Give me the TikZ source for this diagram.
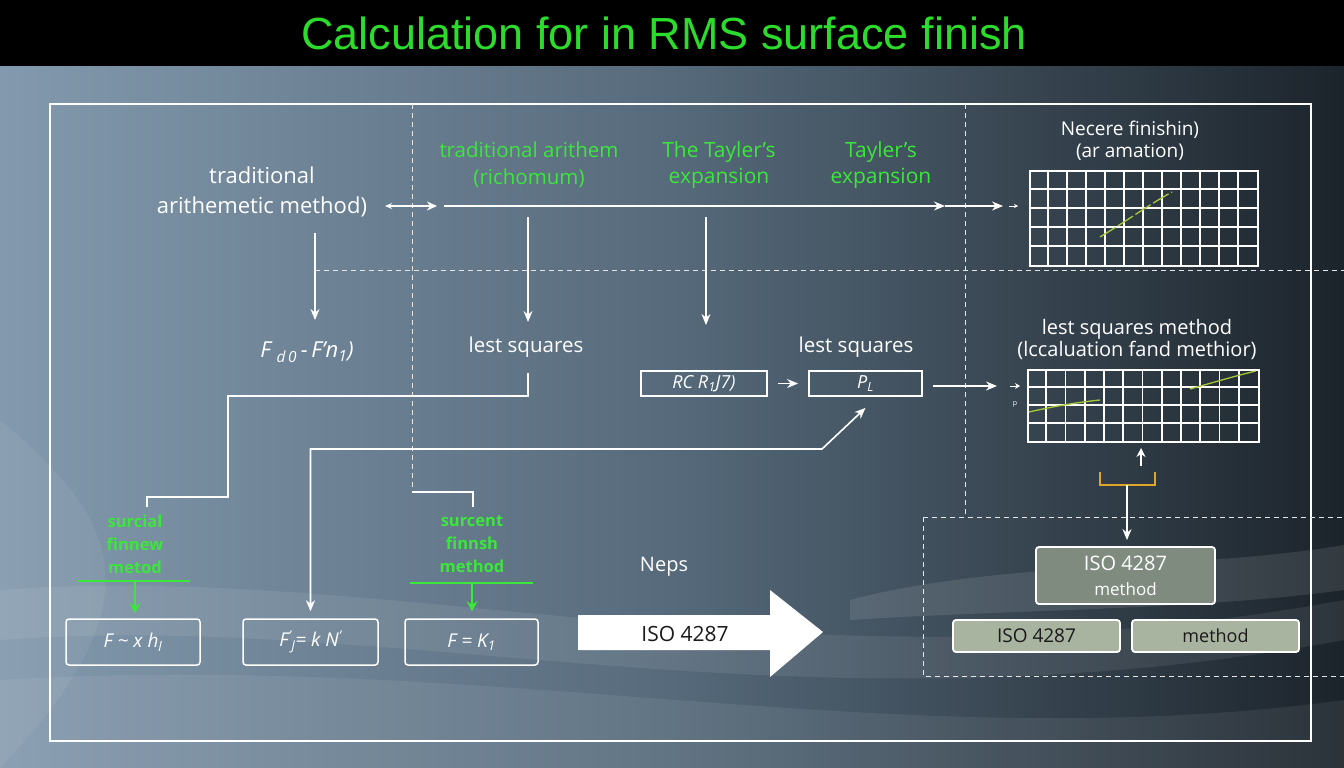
\documentclass[tikz,border=0pt]{standalone}
\usepackage{fontspec}
\setmainfont{Open Sans}
\newfontfamily\titlefont{Liberation Sans}
\usetikzlibrary{arrows.meta,calc}
\definecolor{tgreen}{HTML}{2BDC2B}
\definecolor{lgreen}{HTML}{3CE63C}
\definecolor{bgL}{HTML}{8399AD}
\definecolor{bgM}{HTML}{566A7B}
\definecolor{bgR}{HTML}{1C242B}
\definecolor{boxA}{HTML}{7F8B7F}
\definecolor{boxB}{HTML}{A8B4A0}
\definecolor{orng}{HTML}{E0A526}
\definecolor{lime}{HTML}{A8C83A}
\definecolor{darktxt}{HTML}{1A1A1A}
\begin{document}
\begin{tikzpicture}[x=1pt,y=-1pt,
  wtxt/.style={text=white, align=center, inner sep=0pt},
  gtxt/.style={text=lgreen, align=center, inner sep=0pt},
  conn/.style={white, line width=1.6pt},
  arr/.style={conn, -{Stealth[length=11pt,width=9pt]}},
  dsh/.style={white!80!gray, line width=1pt, dash pattern=on 5pt off 4pt},
  fbox/.style={draw=white, line width=1.5pt, rounded corners=3pt, inner sep=0pt, text=white, font=\itshape\fontsize{19}{22}\selectfont},
  sbox/.style={draw=white, line width=1.8pt, inner sep=0pt, text=white, font=\itshape\fontsize{18}{20}\selectfont},
  gridl/.style={white, line width=1.6pt},
  gline/.style={lgreen, line width=1.6pt},
  garr/.style={lgreen, line width=2.2pt, -{Stealth[length=10pt,width=11pt]}}
]
\useasboundingbox (0,0) rectangle (1344,768);
% background
\shade[left color=bgL, right color=bgR, middle color=bgM] (0,66) rectangle (1344,768);
\fill[white, opacity=0.06] (0,420) .. controls (120,520) and (160,600) .. (0,768) -- cycle;
\fill[white, opacity=0.08] (0,590) .. controls (400,560) and (800,700) .. (1344,600) -- (1344,640) .. controls (800,740) and (400,610) .. (0,640) -- cycle;
\fill[white, opacity=0.07] (0,680) .. controls (500,650) and (900,760) .. (1344,700) -- (1344,768) -- (0,768) -- cycle;
\fill[white, opacity=0.10] (850,600) .. controls (1000,560) and (1200,570) .. (1344,545) -- (1344,590) .. controls (1200,610) and (1000,610) .. (850,620) -- cycle;
\fill[black] (0,0) rectangle (1344,66);
\node[text=tgreen, font=\titlefont\fontsize{45}{50}\selectfont] (title) at (664,33) {Calculation for in RMS surface finish};
% frame
\draw[white, line width=2pt] (50,104) rectangle (1311,741);
% dashed guides
\draw[dsh] (412,104) -- (412,492);
\draw[dsh] (315,270) -- (1344,270);
\draw[dsh] (965,104) -- (965,517);
\draw[dsh] (923,517) -- (1344,517);
\draw[dsh] (923,517) -- (923,676) -- (1344,676);
% top texts
\node[wtxt, font=\fontsize{22}{30}\selectfont] (tam) at (262,192) {traditional\\arithemetic method)};
\node[gtxt, font=\fontsize{20.5}{27}\selectfont] (g1) at (529,165) {traditional arithem\\(richomum)};
\node[gtxt, font=\fontsize{21}{26}\selectfont] (g2) at (719,165) {The Tayler's\\expansion};
\node[gtxt, font=\fontsize{21}{26}\selectfont] (g3) at (881,165) {Tayler's\\expansion};
% top arrows
\coordinate (da) at (385,206); \coordinate (db) at (437,206);
\draw[conn, {Stealth[length=7pt,width=6pt]}-{Stealth[length=10pt,width=9pt]}] (da) -- (db);
\coordinate (h0) at (444,206); \coordinate (h1) at (945,206); \coordinate (h2) at (1003,206);
\coordinate (h3) at (1009,206); \coordinate (h4) at (1018,206);
\draw[arr] (h0) -- (h1);
\draw[arr] (h1) -- (h2);
\draw[white, line width=0.8pt, -{Stealth[length=4pt,width=4pt]}] (h3) -- (h4);
% vertical arrows
\coordinate (v1a) at (315,233); \coordinate (v1b) at (315,320);
\coordinate (v2a) at (528,217); \coordinate (v2b) at (528,322);
\coordinate (v3a) at (706,217); \coordinate (v3b) at (706,325);
\draw[arr] (v1a) -- (v1b);
\draw[arr] (v2a) -- (v2b);
\draw[arr] (v3a) -- (v3b);
% right top grid
\node[wtxt, font=\fontsize{19}{22}\selectfont] (nt) at (1130,141) {Necere finishin)\\(ar amation)};
\node[draw=white, line width=1.6pt, inner sep=0pt, minimum width=228pt, minimum height=95pt, anchor=north west] (gA) at (1029,170) {};
\foreach \i in {1,...,11} \draw[gridl] ($(gA.north west)+(19*\i,0)$) -- ($(gA.south west)+(19*\i,0)$);
\foreach \j in {1,...,4} \draw[gridl] ($(gA.north west)+(0,19*\j)$) -- ($(gA.north east)+(0,19*\j)$);
\draw[lime, line width=1.3pt, dash pattern=on 18pt off 3pt] (1100,237) .. controls (1125,222) and (1150,204) .. (1172,192);
% middle row
\node[text=white, font=\itshape\fontsize{22}{24}\selectfont, inner sep=0pt] (f1) at (307,352) {F \textsubscript{d\,0}\,-\,F\textquoteright n\textsubscript{1})};
\node[wtxt, font=\fontsize{20.5}{22}\selectfont] (ls1) at (526,347) {lest squares};
\node[wtxt, font=\fontsize{20.5}{22}\selectfont] (ls2) at (856,347) {lest squares};
\node[sbox, minimum width=126pt, minimum height=25pt] (rc) at (704,383.5) {RC R\textsubscript{1}J7)};
\node[sbox, minimum width=113pt, minimum height=25pt] (pb) at (865.5,383.5) {P\textsubscript{L}};
\draw[arr, shorten <=10pt, shorten >=10pt] (rc.east) -- (pb.west);
\coordinate (pg) at (997,386);
\draw[arr, shorten <=10pt] (pb.east |- pg) -- (pg);
\coordinate (pg1) at (1010,386); \coordinate (pg2) at (1020,386);
\draw[white, line width=0.8pt, -{Stealth[length=5pt,width=6pt]}] (pg1) -- (pg2);
\node[text=white, font=\fontsize{7}{7}\selectfont, inner sep=0pt] (pp) at (1015,404) {p};
% right middle grid
\node[wtxt, font=\fontsize{20}{22}\selectfont] (lsm) at (1137,339) {lest squares method\\(lccaluation fand methior)};
\node[draw=white, line width=1.6pt, inner sep=0pt, minimum width=231pt, minimum height=72pt, anchor=north west] (gB) at (1027,369) {};
\foreach \i in {1,...,11} \draw[gridl] ($(gB.north west)+(19.25*\i,0)$) -- ($(gB.south west)+(19.25*\i,0)$);
\foreach \j in {1,...,3} \draw[gridl] ($(gB.north west)+(0,18*\j)$) -- ($(gB.north east)+(0,18*\j)$);
\draw[lime, line width=1.3pt] (1029,412) .. controls (1055,406) and (1080,402) .. (1100,400);
\draw[lime, line width=1.3pt] (1190,389) .. controls (1215,382) and (1235,376) .. (1256,371);
% bracket and ISO boxes
\coordinate (ua) at (1141,466); \coordinate (ub) at (1141,448);
\draw[conn, -{Stealth[length=9pt,width=9pt]}] (ua) -- (ub);
\draw[orng, line width=1.8pt] (1100,472) |- (1155,485) -- (1155,472);
\coordinate (br) at (1127,485);
\node[fill=boxA, draw=white, line width=1.8pt, rounded corners=3pt, minimum width=179pt, minimum height=57pt, text=white, align=center, inner sep=0pt, font=\fontsize{17}{25}\selectfont] (isoA) at (1125.5,575.5) {{\fontsize{20}{24}\selectfont ISO 4287}\\method};
\draw[arr, shorten >=6pt] (br) -- (br |- isoA.north);
\node[fill=boxB, draw=white, line width=1.8pt, rounded corners=3pt, minimum width=167pt, minimum height=32pt, text=darktxt, font=\fontsize{19}{22}\selectfont, inner sep=0pt] (isoB) at (1036.5,636) {ISO 4287};
\node[fill=boxB, draw=white, line width=1.8pt, rounded corners=3pt, minimum width=167pt, minimum height=32pt, text=darktxt, font=\fontsize{18}{22}\selectfont, inner sep=0pt] (isoC) at (1215.5,636) {method};
% big arrow
\fill[white] (578,615) -- (770,615) -- (770,590) -- (823,632) -- (770,677) -- (770,650) -- (578,650) -- cycle;
\node[text=darktxt, font=\fontsize{21}{24}\selectfont, inner sep=0pt] (isoD) at (685,634) {ISO 4287};
\node[wtxt, font=\fontsize{20}{22}\selectfont] (neps) at (664,567) {Neps};
% bottom formula boxes
\node[fbox, minimum width=134pt, minimum height=46pt] (fa) at (133,642) {F \textasciitilde{} x h\textsubscript{l}};
\node[fbox, minimum width=135pt, minimum height=46pt] (fb) at (310.5,642) {F\textsuperscript{\textquoteright}\textsubscript{J}= k N\textsuperscript{\textquoteright}};
\node[fbox, minimum width=133pt, minimum height=46pt] (fc) at (471.5,642) {F = K\textsubscript{1}};
% green labels
\node[gtxt, font=\bfseries\fontsize{16.5}{23}\selectfont] (gL) at (135,544) {surcial\\finnew\\metod};
\node[gtxt, font=\bfseries\fontsize{16.5}{23}\selectfont] (gR) at (472,544) {surcent\\finnsh\\method};
\draw[gline] (78,581) -- (190,581);
\draw[gline] (410,583) -- (533,583);
\coordinate (gla) at (135,582); \coordinate (gra) at (472,584);
\draw[garr, shorten >=5pt] (gla) -- (gla |- fa.north);
\draw[garr, shorten >=7pt] (gra) -- (gra |- fc.north);
% connectors
\coordinate (c1) at (528,373);
\draw[conn] (c1) -- (528,396) -| (228,497) -| (147,507);
\coordinate (k1) at (822,449);
\draw[conn, {Stealth[length=11pt,width=9pt]}-{Stealth[length=11pt,width=9pt]}, shorten <=7pt] (fb.north) |- (k1) -- ($(pb.south)+(0,11)$);
\coordinate (c3) at (412,492);
\draw[conn] (c3) -- (473,492) -- (473,507);
\end{tikzpicture}
\end{document}
